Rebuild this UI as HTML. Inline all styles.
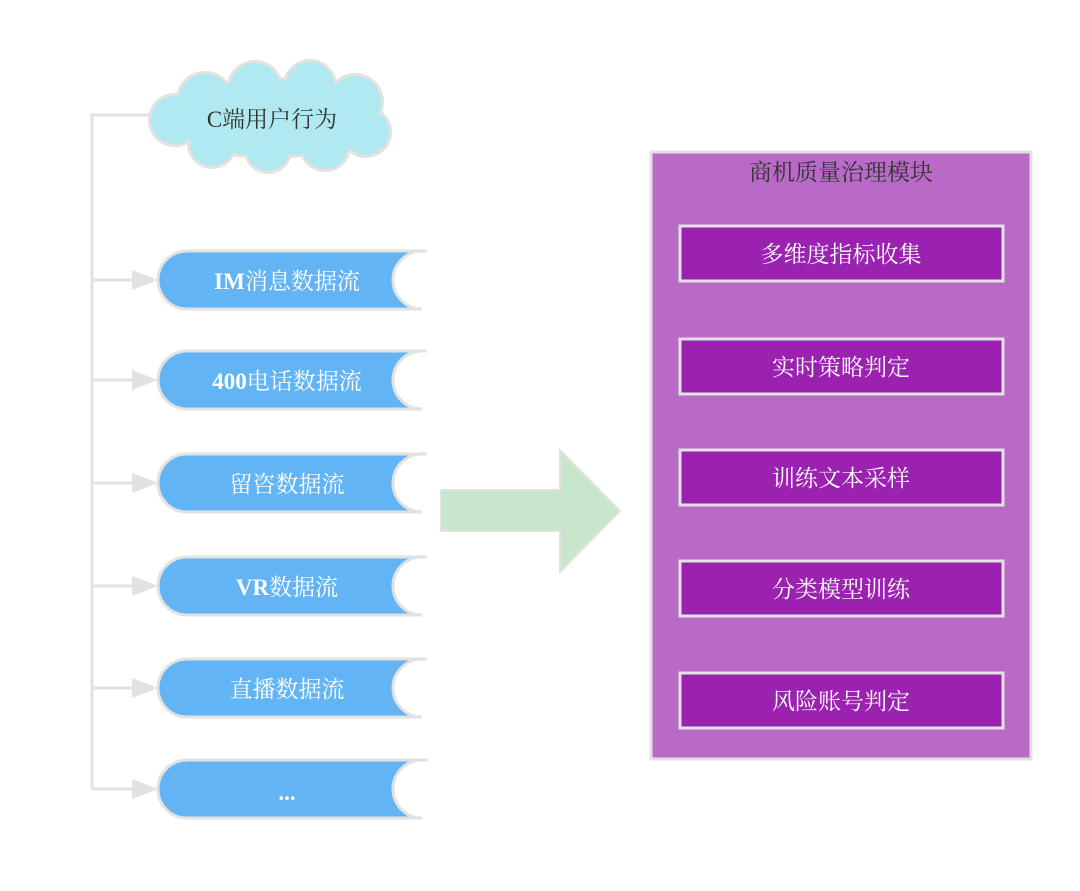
<!DOCTYPE html>
<html><head><meta charset="utf-8"><style>
html,body{margin:0;padding:0;background:#fff;width:1080px;height:891px;overflow:hidden}
text{font-family:"Liberation Serif","Noto Serif CJK SC",serif}
</style></head><body>
<svg width="1080" height="891" viewBox="0 0 1080 891" xmlns="http://www.w3.org/2000/svg">
<defs>
<g id="cloud">
<ellipse cx="270" cy="118" rx="100" ry="38"/>
<circle cx="205" cy="100" r="26"/>
<circle cx="255" cy="88" r="25"/>
<circle cx="310" cy="86" r="24"/>
<circle cx="355" cy="102" r="26"/>
<circle cx="366" cy="132" r="23"/>
<circle cx="325" cy="146" r="23"/>
<circle cx="268" cy="150" r="21"/>
<circle cx="212" cy="144" r="22"/>
<circle cx="175" cy="120" r="24"/>
</g>
</defs>
<!-- connectors -->
<g stroke="#e2e2e2" stroke-width="3" fill="none">
<path d="M150 115 H92 V789"/>
<path d="M92 280 H134 M92 380 H134 M92 483 H134 M92 586 H134 M92 688 H134 M92 789 H134"/>
</g>
<g fill="#e2e2e2">
<polygon points="132,270 158,280 132,290"/>
<polygon points="132,370 158,380 132,390"/>
<polygon points="132,473 158,483 132,493"/>
<polygon points="132,576 158,586 132,596"/>
<polygon points="132,678 158,688 132,698"/>
<polygon points="132,779 158,789 132,799"/>
</g>
<!-- cloud -->
<g fill="#e2e2e2" stroke="#e2e2e2" stroke-width="6"><use href="#cloud"/></g>
<g fill="#b1e9f0"><use href="#cloud"/></g>
<text x="272" y="127" font-size="23" text-anchor="middle" fill="#333">C端用户行为</text>
<!-- streams -->
<g fill="#62b4f5" stroke="#e2e2e2" stroke-width="3">
<path d="M427 251 H187 A29 29 0 0 0 187 309 H422 A29 29 0 0 1 422 251 Z"/>
<path d="M427 351 H187 A29 29 0 0 0 187 409 H422 A29 29 0 0 1 422 351 Z"/>
<path d="M427 454 H187 A29 29 0 0 0 187 512 H422 A29 29 0 0 1 422 454 Z"/>
<path d="M427 557 H187 A29 29 0 0 0 187 615 H422 A29 29 0 0 1 422 557 Z"/>
<path d="M427 659 H187 A29 29 0 0 0 187 717 H422 A29 29 0 0 1 422 659 Z"/>
<path d="M427 760 H187 A29 29 0 0 0 187 818 H422 A29 29 0 0 1 422 760 Z"/>
</g>
<g fill="#fff" font-size="23" text-anchor="middle">
<text x="287" y="289" font-weight="bold">IM<tspan font-weight="normal">消息数据流</tspan></text>
<text x="287" y="389" font-weight="bold">400<tspan font-weight="normal">电话数据流</tspan></text>
<text x="287" y="492">留咨数据流</text>
<text x="287" y="595" font-weight="bold">VR<tspan font-weight="normal">数据流</tspan></text>
<text x="287" y="697">直播数据流</text>
<text x="287" y="800" font-weight="bold">...</text>
</g>
<!-- big arrow -->
<polygon points="441,490 560,490 560,450 620,511 560,572 560,531 441,531" fill="#c8e6cb" stroke="#e2e2e2" stroke-width="2"/>
<!-- module -->
<rect x="651" y="152" width="380" height="607" fill="#b86ac6" stroke="#e2e2e2" stroke-width="3"/>
<text x="841" y="180" font-size="23" text-anchor="middle" fill="#333">商机质量治理模块</text>
<g fill="#9b22b0" stroke="#e2e2e2" stroke-width="3">
<rect x="680" y="226" width="323" height="55"/>
<rect x="680" y="339" width="323" height="55"/>
<rect x="680" y="450" width="323" height="55"/>
<rect x="680" y="561" width="323" height="55"/>
<rect x="680" y="673" width="323" height="55"/>
</g>
<g fill="#fff" font-size="23" text-anchor="middle">
<text x="841" y="262">多维度指标收集</text>
<text x="841" y="375">实时策略判定</text>
<text x="841" y="486">训练文本采样</text>
<text x="841" y="597">分类模型训练</text>
<text x="841" y="709">风险账号判定</text>
</g>
</svg>
</body></html>
